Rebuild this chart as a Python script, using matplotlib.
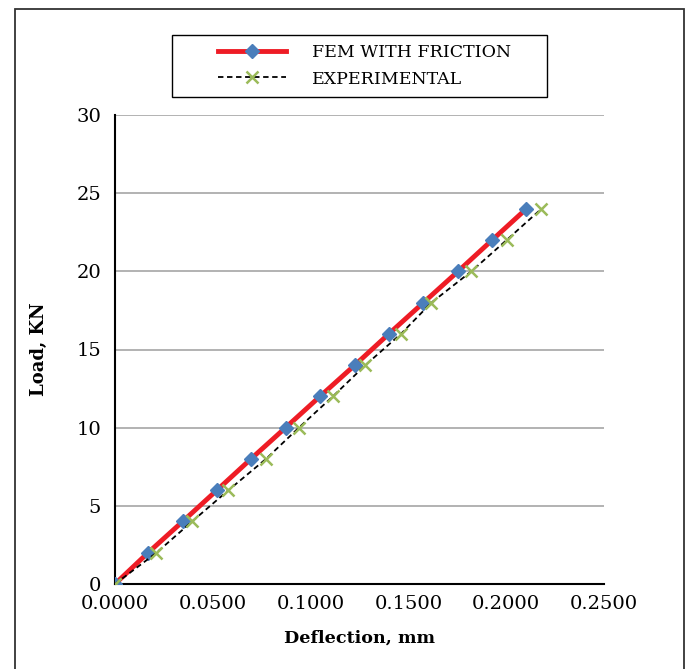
import matplotlib
matplotlib.use("Agg")
import matplotlib.pyplot as plt
from matplotlib.patches import Rectangle

# Load steps (KN) shared by both series
load_kn = [0, 2, 4, 6, 8, 10, 12, 14, 16, 18, 20, 22, 24]

# Deflection (mm)
fem_deflection = [0.0, 0.0169, 0.0346, 0.0521, 0.0695, 0.0872, 0.1048,
                  0.1226, 0.1400, 0.1577, 0.1754, 0.1928, 0.2103]
exp_deflection = [0.0, 0.0212, 0.0394, 0.0580, 0.0772, 0.0940, 0.1114,
                  0.1280, 0.1462, 0.1618, 0.1822, 0.2002, 0.2180]

x_ticks = [0.0, 0.05, 0.10, 0.15, 0.20, 0.25]
y_ticks = [0, 5, 10, 15, 20, 25, 30]

plt.rcParams["font.family"] = ["DejaVu Serif"]

W, H = 693, 669
fig = plt.figure(figsize=(W / 100, H / 100), dpi=100)
ax = fig.add_axes([115 / W, 85 / H, 489 / W, 469 / H])

# outer frame around the whole chart
fig.add_artist(Rectangle((15 / W, -0.05), 669 / W, 1.05 - 9 / H,
                         transform=fig.transFigure, fill=False,
                         edgecolor="#333333", linewidth=1.3))
# legend frame
fig.add_artist(Rectangle((172 / W, 1 - 97 / H), 375 / W, 62 / H,
                         transform=fig.transFigure, fill=False,
                         edgecolor="black", linewidth=1.0))

ax.plot(fem_deflection, load_kn, color="#ee1c25", linewidth=3.5,
        marker="D", markersize=7, markerfacecolor="#4a7ebb",
        markeredgecolor="#4a7ebb", label="FEM WITH FRICTION", zorder=3)
ax.plot(exp_deflection, load_kn, color="black", linewidth=1.3,
        linestyle=(0, (3, 2)), marker="x", markersize=8, markeredgewidth=1.8,
        markeredgecolor="#9bbb59", label="EXPERIMENTAL", zorder=4)

ax.set_xlim(0, 0.25)
ax.set_ylim(0, 30)
ax.set_xticks(x_ticks)
ax.set_xticklabels([f"{v:.4f}" for v in x_ticks])
ax.set_yticks(y_ticks)
ax.tick_params(length=0, labelsize=14)
ax.tick_params(axis="y", pad=10)
ax.tick_params(axis="x", pad=8)
ax.yaxis.grid(True, color="#a6a6a6", linewidth=1.2)
ax.set_axisbelow(True)
for side in ("top", "right"):
    ax.spines[side].set_visible(False)
for side in ("left", "bottom"):
    ax.spines[side].set_linewidth(1.5)
    ax.spines[side].set_color("black")

ax.set_xlabel("Deflection, mm", fontsize=12.6, fontweight="bold", labelpad=12)
ax.set_ylabel("Load, KN", fontsize=13, fontweight="bold", labelpad=20)

fig.legend(loc="upper left", bbox_to_anchor=(218 / W, 1 - 44 / H),
           fontsize=12.5, frameon=False, borderpad=0.0, borderaxespad=0.0,
           handlelength=3.9, handletextpad=1.5, labelspacing=0.55)

fig.savefig("out.png", dpi=100)
